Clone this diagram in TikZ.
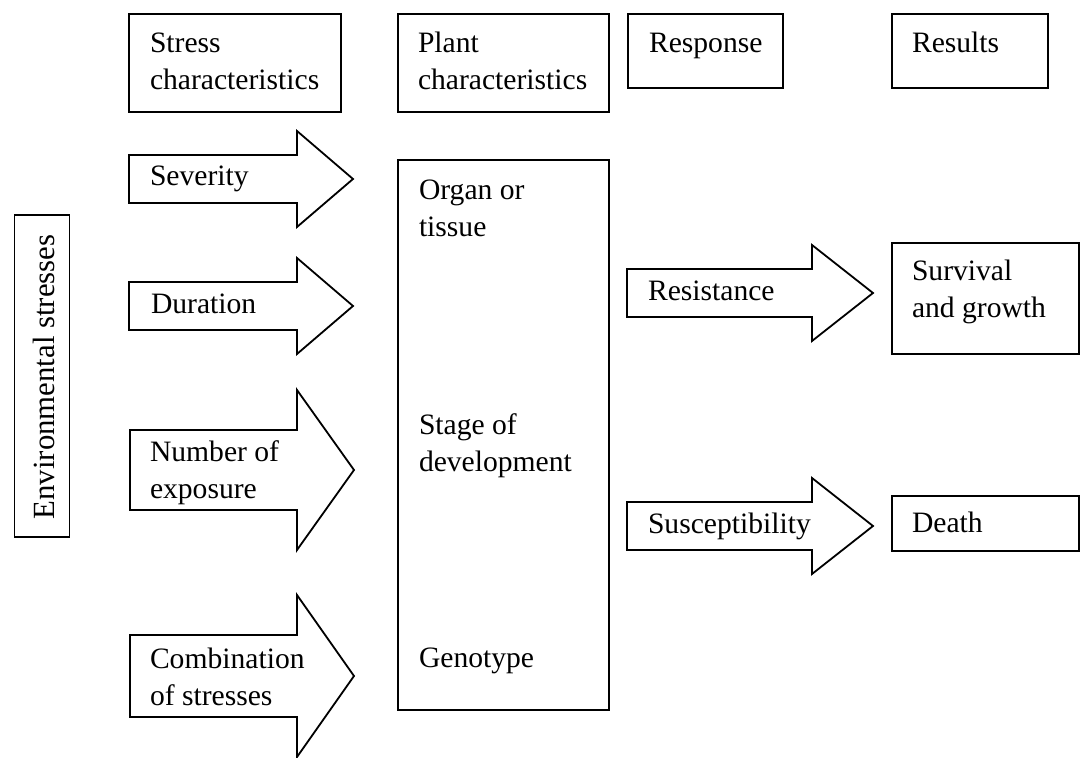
\documentclass[tikz,border=0pt]{standalone}
\usepackage{fontspec}
\setmainfont{Liberation Serif}
\begin{document}
\begin{tikzpicture}[x=0.5pt,y=-0.5pt,
  line width=0.9pt,
  frame/.style={draw, rectangle, inner sep=0pt, outer sep=0pt},
  lbl/.style={inner sep=0pt, outer sep=0pt, align=left, anchor=base west,
    font=\fontsize{14.8}{18.5}\selectfont},
  blk/.style={draw, line join=miter, fill=white}]
\useasboundingbox (0,0) rectangle (1086,758);

% block arrow: start x, head base x, tip x, centre y, half body, half head
\newcommand{\blockarrowpath}[6]{%
  \draw[blk] (#1,{#4-#5}) -- (#2,{#4-#5}) -- (#2,{#4-#6}) -- (#3,#4)
    -- (#2,{#4+#6}) -- (#2,{#4+#5}) -- (#1,{#4+#5}) -- cycle;}

% column headings (two-line labels are placed by their last baseline)
\node[frame, minimum width=106pt, minimum height=49pt] (hstress) at (235,63) {};
\node[frame, minimum width=105.5pt, minimum height=49pt] (hplant) at (503.5,63) {};
\node[frame, minimum width=77.5pt, minimum height=37pt] (hresp) at (705.5,51) {};
\node[frame, minimum width=78pt, minimum height=37pt] (hres) at (970,51) {};
\node[lbl] (thstress) at (150,90) {Stress\\characteristics};
\node[lbl] (thplant) at (418,90) {Plant\\characteristics};
\node[lbl] (thresp) at (649,53) {Response};
\node[lbl] (thres) at (912,53) {Results};

% environmental stresses
\node[frame, minimum width=27.5pt, minimum height=161pt] (env) at (42,376) {};
\node[inner sep=0pt, rotate=90, font=\fontsize{15.4}{18.5}\selectfont] (tenv) at (44,377) {Environmental stresses};

% stress characteristics
\blockarrowpath{129}{297}{353}{179}{24}{48}
\node[lbl] (tsev) at (150,186) {Severity};
\blockarrowpath{129}{297}{353}{306}{24}{48}
\node[lbl] (tdur) at (151,314) {Duration};
\blockarrowpath{130}{297}{354}{470}{40}{80}
\node[lbl] (tnum) at (150,499) {Number of\\exposure};
\blockarrowpath{130}{297}{354}{676}{41}{81}
\node[lbl] (tcomb) at (150,705) {Combination\\of stresses};

% plant characteristics
\node[frame, minimum width=105.5pt, minimum height=275pt] (plant) at (503.5,435) {};
\node[lbl] (torgan) at (419,237) {Organ or\\tissue};
\node[lbl] (tstage) at (419,472) {Stage of\\development};
\node[lbl] (tgeno) at (419,667) {Genotype};

% responses
\blockarrowpath{627}{812}{873}{293}{24}{48}
\node[lbl] (tresist) at (648,301) {Resistance};
\blockarrowpath{627}{812}{873}{526}{24}{48}
\node[lbl] (tsusc) at (648,533) {Susceptibility};

% results
\node[frame, minimum width=93.5pt, minimum height=55.5pt] (surv) at (985.5,298.5) {};
\node[lbl] (tsurv) at (912,318) {Survival\\and growth};
\node[frame, minimum width=93.5pt, minimum height=27.5pt] (death) at (985.5,523.5) {};
\node[lbl] (tdeath) at (912,532) {Death};
\end{tikzpicture}
\end{document}
